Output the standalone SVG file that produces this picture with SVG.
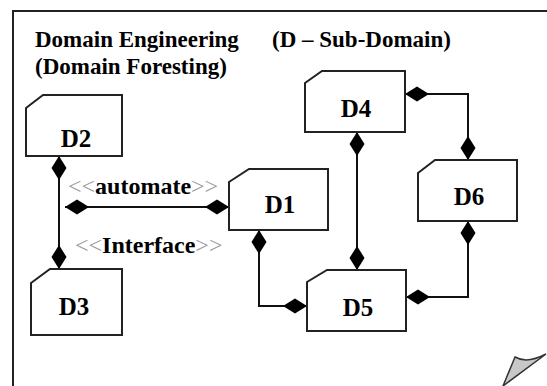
<svg xmlns="http://www.w3.org/2000/svg" width="547" height="386" viewBox="0 0 547 386">
<style>
.frame{fill:none;stroke:#222;stroke-width:2}
.box{fill:#fff;stroke:#222;stroke-width:2}
.lbl{font-family:"Liberation Serif","Times New Roman",serif;font-weight:bold;font-size:25px;fill:#000;text-anchor:middle}
.title{font-family:"Liberation Serif","Times New Roman",serif;font-weight:bold;font-size:23px;fill:#000}
.st{font-family:"Liberation Serif","Times New Roman",serif;font-size:24px;fill:#000}
.st .g{fill:#999;font-weight:normal}
.st .b{font-weight:bold}
.conn{fill:none;stroke:#111;stroke-width:2;marker-start:url(#dia);marker-end:url(#dia)}
</style>
<defs>
<marker id="dia" viewBox="0 0 24 16" refX="24" refY="8" markerWidth="24" markerHeight="16" markerUnits="userSpaceOnUse" orient="auto-start-reverse">
<path d="M0,8 L12,0.5 L24,8 L12,15.5 Z" fill="#000"/>
</marker>
</defs>
<rect width="547" height="386" fill="#fff"/>
<path class="frame" d="M13,386 L13,11 L547,11"/>
<g id="title">
<text class="title" x="35" y="47">Domain Engineering</text>
<text class="title" x="35" y="74">(Domain Foresting)</text>
<text class="title" x="272" y="47">(D – Sub-Domain)</text>
</g>
<g id="connectors">
<path class="conn" d="M59,156 L59,269"/>
<path class="conn" d="M65,207 L229,207"/>
<path class="conn" d="M259,230 L259,306 L307,306"/>
<path class="conn" d="M357,132 L357,270"/>
<path class="conn" d="M405,94 L468,94 L468,160"/>
<path class="conn" d="M406,297 L468,297 L468,221"/>
<text class="st" x="68" y="194"><tspan class="g">&lt;&lt;</tspan><tspan class="b">automate</tspan><tspan class="g">&gt;&gt;</tspan></text>
<text class="st" x="75" y="253"><tspan class="g">&lt;&lt;</tspan><tspan class="b">Interface</tspan><tspan class="g">&gt;&gt;</tspan></text>
</g>
<g id="D2">
<path class="box" d="M26,108 L43,95 L122,95 L122,156 L26,156 Z"/>
<text class="lbl" x="76" y="147">D2</text>
</g>
<g id="D3">
<path class="box" d="M31,283 L50,269 L122,269 L122,335 L31,335 Z"/>
<text class="lbl" x="74" y="315">D3</text>
</g>
<g id="D1">
<path class="box" d="M229,182 L249,169 L328,169 L328,230 L229,230 Z"/>
<text class="lbl" x="280" y="213">D1</text>
</g>
<g id="D4">
<path class="box" d="M305,83 L322,71 L405,71 L405,132 L305,132 Z"/>
<text class="lbl" x="356" y="117">D4</text>
</g>
<g id="D6">
<path class="box" d="M418,173 L435,160 L517,160 L517,221 L418,221 Z"/>
<text class="lbl" x="469" y="205">D6</text>
</g>
<g id="D5">
<path class="box" d="M307,282 L327,270 L406,270 L406,331 L307,331 Z"/>
<text class="lbl" x="358" y="316">D5</text>
</g>
<path d="M515,357 Q527,364 546,354 L503,386 Z" fill="#c8c8c8" stroke="#333" stroke-width="1.5"/>
</svg>
